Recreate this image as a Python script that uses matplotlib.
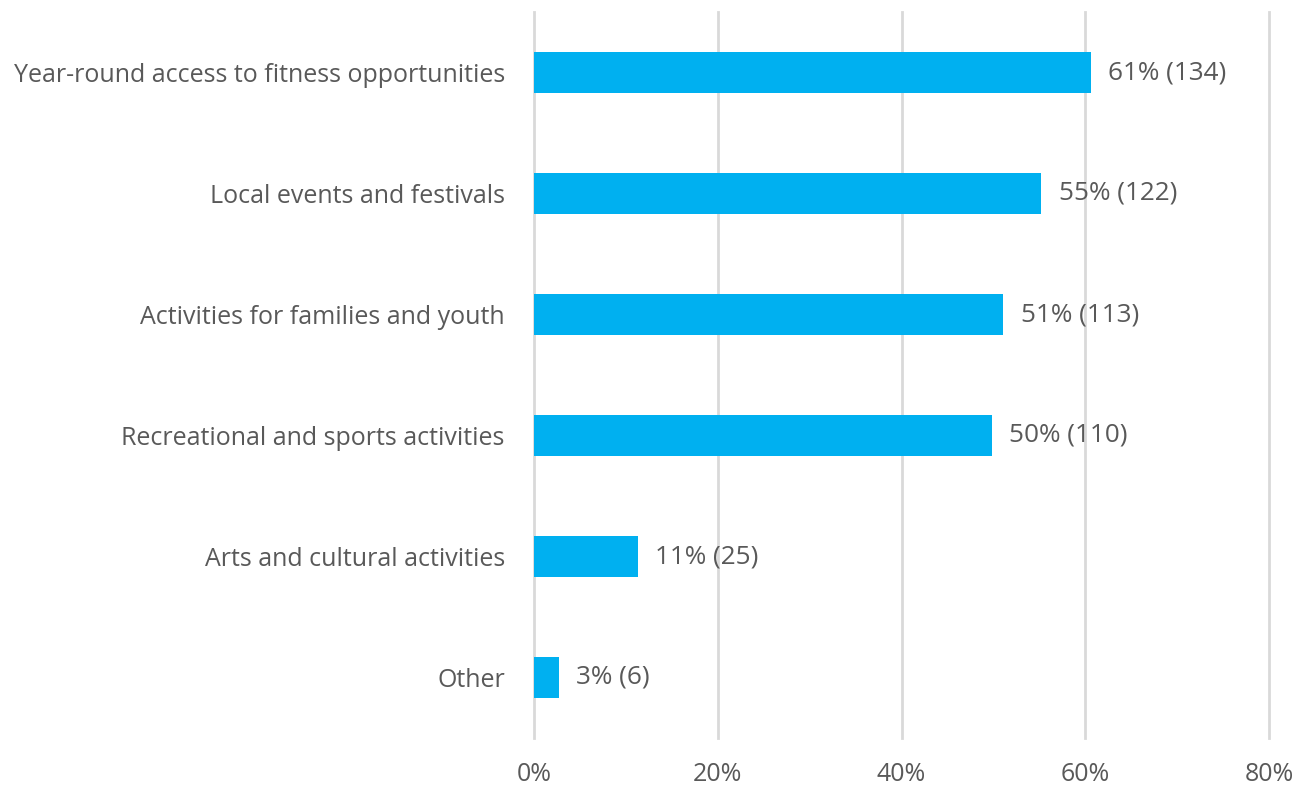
import matplotlib
matplotlib.use("Agg")
import matplotlib.pyplot as plt

categories = [
    "Year-round access to fitness opportunities",
    "Local events and festivals",
    "Activities for families and youth",
    "Recreational and sports activities",
    "Arts and cultural activities",
    "Other",
]
percents = [60.6, 55.2, 51.1, 49.8, 11.3, 2.7]
counts = [134, 122, 113, 110, 25, 6]
xticks = [0, 20, 40, 60, 80]

plt.rcParams["font.family"] = ["Open Sans", "DejaVu Sans"]
text_color = "#595959"
bar_color = "#00B0F0"
grid_color = "#D9D9D9"

fig = plt.figure(figsize=(13.01, 7.86), dpi=100)
ax = fig.add_axes([534 / 1301, 1 - 738 / 786, (1269 - 534) / 1301, (738 - 12) / 786])

ypos = list(range(len(categories)))
ax.barh(ypos, percents, height=0.34, color=bar_color, zorder=3)

for y, p, c in zip(ypos, percents, counts):
    ax.text(p + 1.9, y, f"{round(p)}% ({c})", va="center", ha="left",
            fontsize=18.8, color=text_color, zorder=4)

ax.set_ylim(len(categories) - 0.5, -0.5)
ax.set_xlim(0, 80)
ax.set_xticks(xticks)
ax.set_xticklabels([f"{t}%" for t in xticks])
ax.set_yticks(ypos)
ax.set_yticklabels(categories)

ax.grid(axis="x", color=grid_color, linewidth=2, zorder=0)
ax.grid(axis="y", visible=False)
for gl in ax.get_xgridlines():
    gl.set_clip_on(False)
for s in ax.spines.values():
    s.set_visible(False)
ax.tick_params(axis="both", length=0, labelsize=18, labelcolor=text_color)
ax.tick_params(axis="x", pad=17)
ax.tick_params(axis="y", pad=21)

fig.savefig("out.png", dpi=100)
